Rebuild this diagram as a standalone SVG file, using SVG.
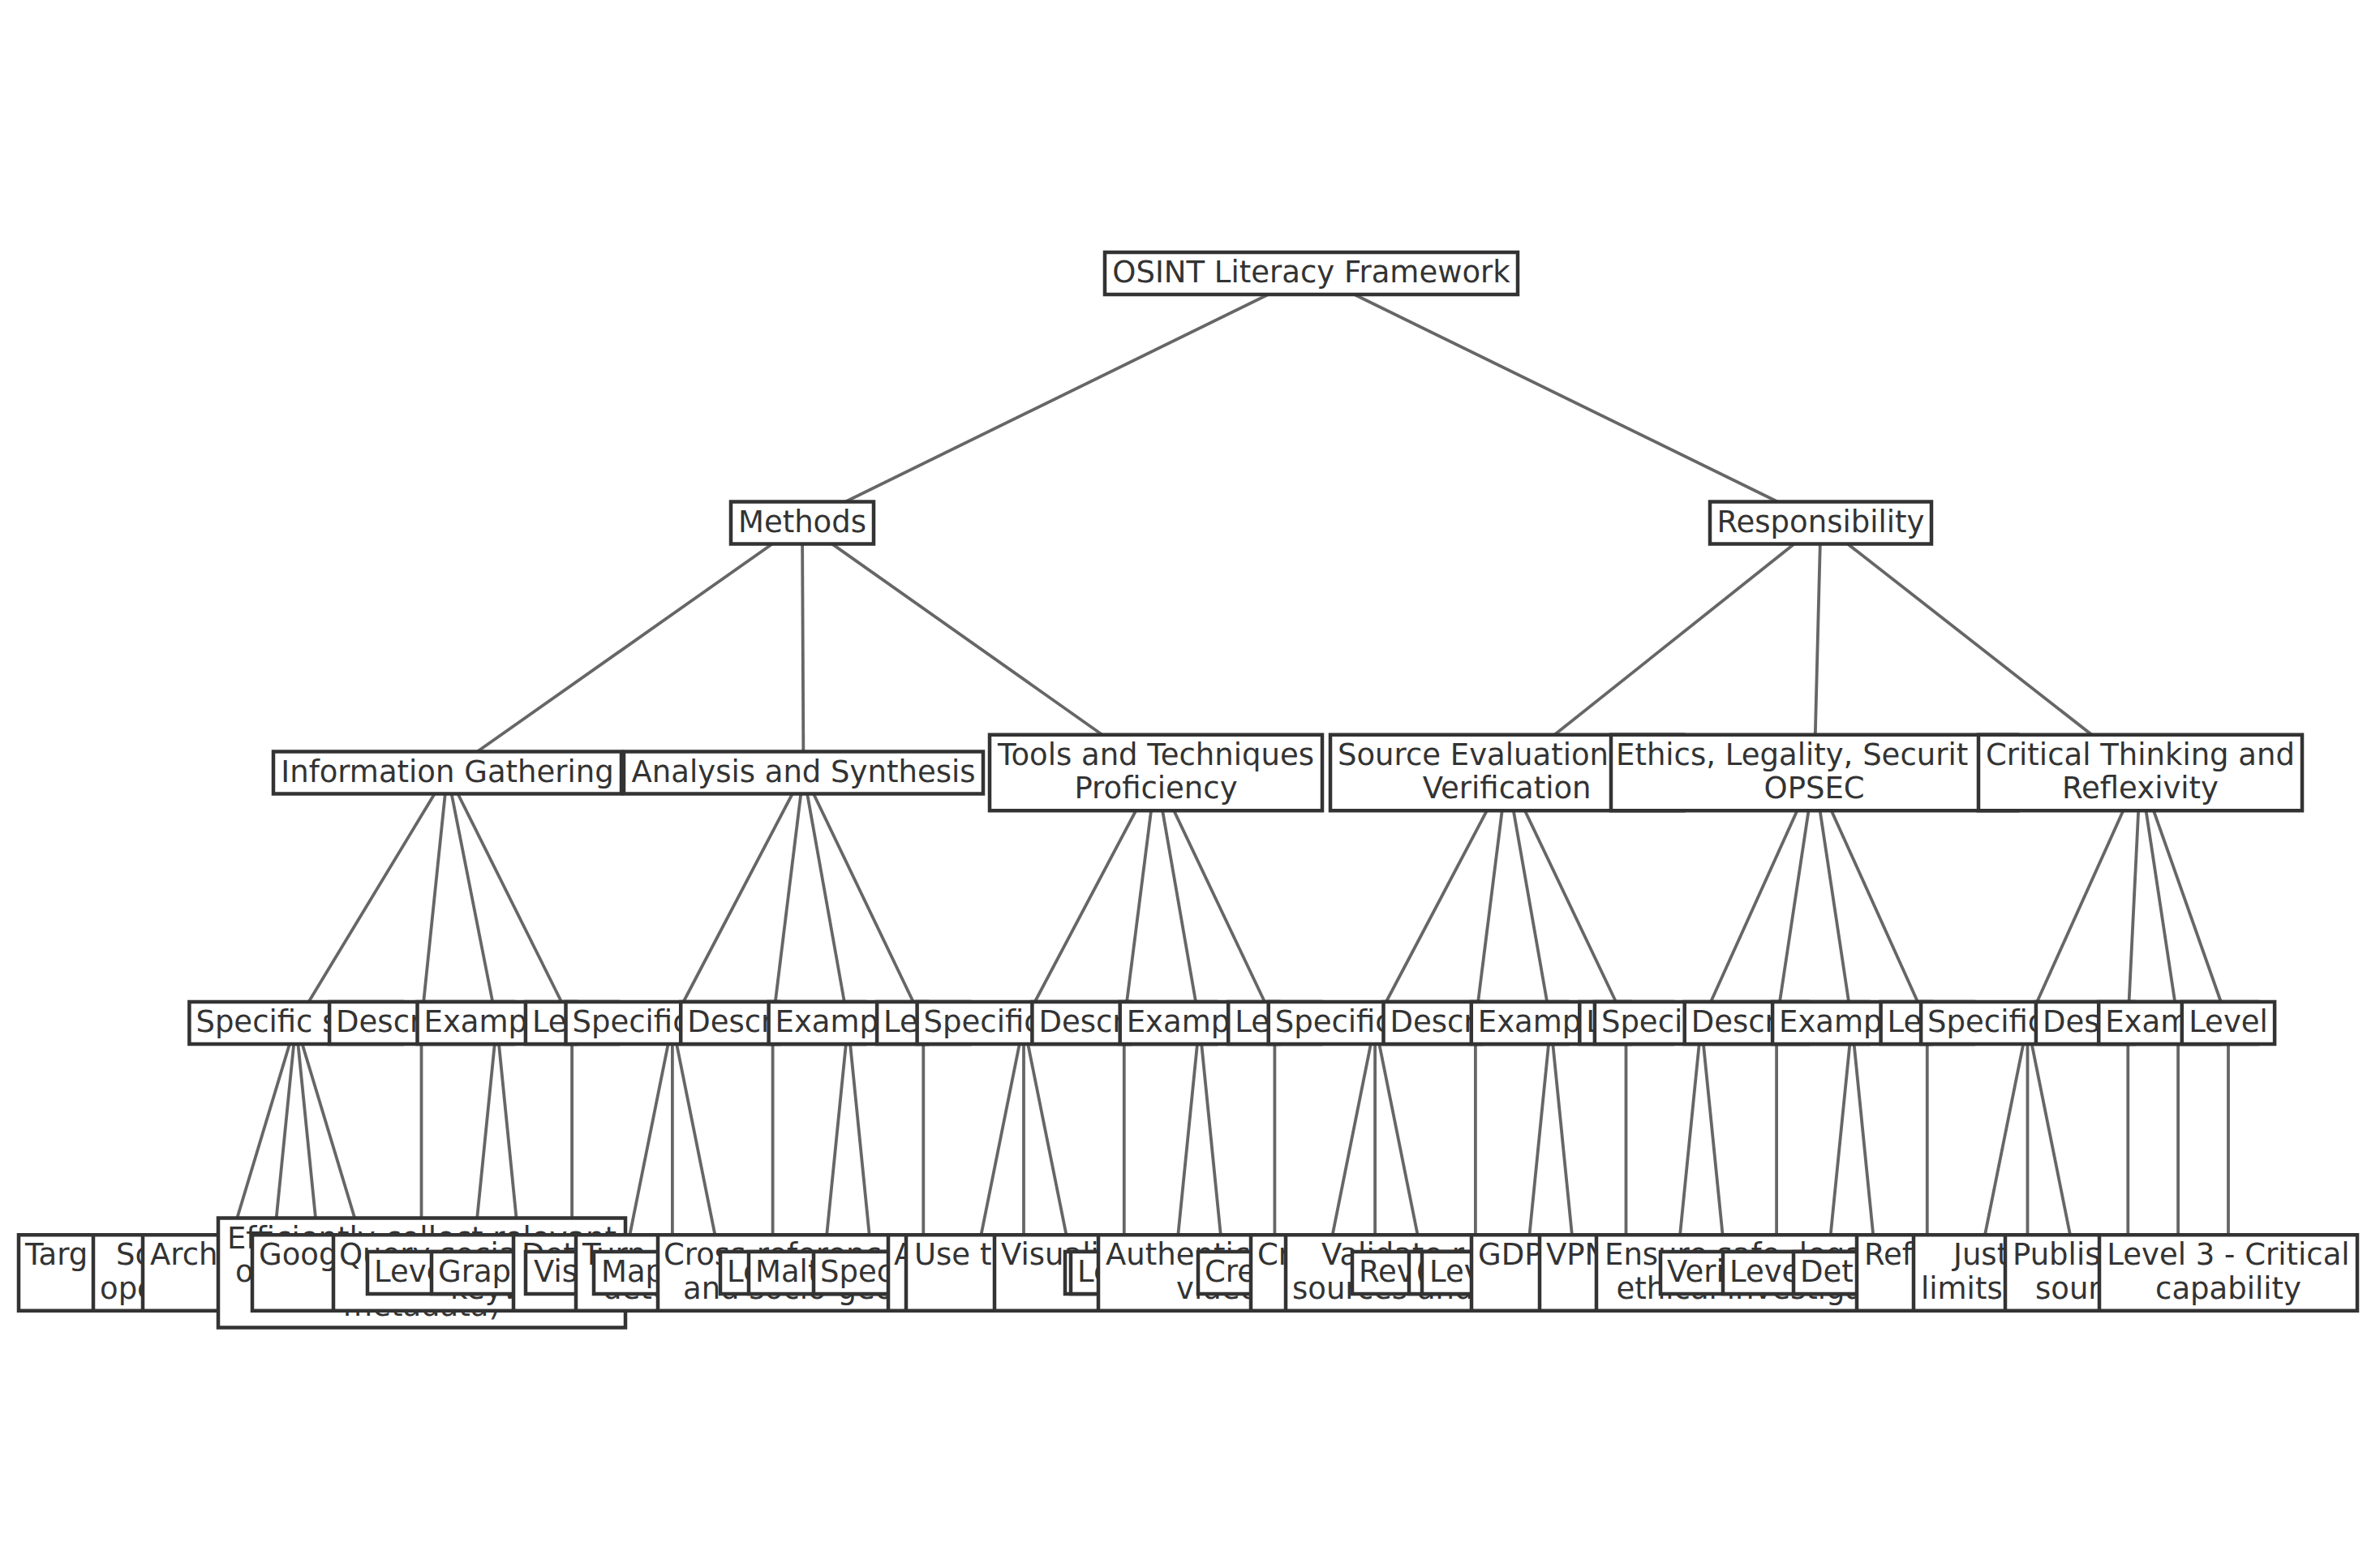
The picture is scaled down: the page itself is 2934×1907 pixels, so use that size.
<svg xmlns="http://www.w3.org/2000/svg" width="2934" height="1907" viewBox="0 0 2934 1907">
<style>
.box{fill:#fff;stroke:#333;stroke-width:4.5}
.edge{stroke:#666;stroke-width:3.8;fill:none}
text{font-family:"DejaVu Sans","Liberation Sans",sans-serif;font-size:37px;fill:#333}
.m{text-anchor:middle}
</style>
<rect x="0" y="0" width="2934" height="1907" fill="#fff"/>
<g id="connectors">
<line class="edge" x1="1616.5" y1="337" x2="989" y2="644.5"/>
<line class="edge" x1="1616.5" y1="337" x2="2244.5" y2="644.5"/>
<line class="edge" x1="989" y1="644.5" x2="551.5" y2="952.5"/>
<line class="edge" x1="989" y1="644.5" x2="990.5" y2="952.5"/>
<line class="edge" x1="989" y1="644.5" x2="1425" y2="952.5"/>
<line class="edge" x1="2244.5" y1="644.5" x2="1857.6" y2="952.5"/>
<line class="edge" x1="2244.5" y1="644.5" x2="2236.6" y2="952.5"/>
<line class="edge" x1="2244.5" y1="644.5" x2="2638.5" y2="952.5"/>
<line class="edge" x1="551.5" y1="952.5" x2="364.8" y2="1261"/>
<line class="edge" x1="551.5" y1="952.5" x2="519.5" y2="1261"/>
<line class="edge" x1="551.5" y1="952.5" x2="612.4" y2="1261"/>
<line class="edge" x1="551.5" y1="952.5" x2="705.1" y2="1261"/>
<line class="edge" x1="990.5" y1="952.5" x2="828.9" y2="1261"/>
<line class="edge" x1="990.5" y1="952.5" x2="952.6" y2="1261"/>
<line class="edge" x1="990.5" y1="952.5" x2="1045.5" y2="1261"/>
<line class="edge" x1="990.5" y1="952.5" x2="1138.3" y2="1261"/>
<line class="edge" x1="1425" y1="952.5" x2="1262" y2="1261"/>
<line class="edge" x1="1425" y1="952.5" x2="1385.8" y2="1261"/>
<line class="edge" x1="1425" y1="952.5" x2="1478.6" y2="1261"/>
<line class="edge" x1="1425" y1="952.5" x2="1571.4" y2="1261"/>
<line class="edge" x1="1857.6" y1="952.5" x2="1695.1" y2="1261"/>
<line class="edge" x1="1857.6" y1="952.5" x2="1818.9" y2="1261"/>
<line class="edge" x1="1857.6" y1="952.5" x2="1911.7" y2="1261"/>
<line class="edge" x1="1857.6" y1="952.5" x2="2004.5" y2="1261"/>
<line class="edge" x1="2236.6" y1="952.5" x2="2097.3" y2="1261"/>
<line class="edge" x1="2236.6" y1="952.5" x2="2190.1" y2="1261"/>
<line class="edge" x1="2236.6" y1="952.5" x2="2283" y2="1261"/>
<line class="edge" x1="2236.6" y1="952.5" x2="2375.8" y2="1261"/>
<line class="edge" x1="2638.5" y1="952.5" x2="2499.5" y2="1261"/>
<line class="edge" x1="2638.5" y1="952.5" x2="2623.3" y2="1261"/>
<line class="edge" x1="2638.5" y1="952.5" x2="2685.1" y2="1261"/>
<line class="edge" x1="2638.5" y1="952.5" x2="2747" y2="1261"/>
<line class="edge" x1="364.8" y1="1261" x2="272" y2="1569"/>
<line class="edge" x1="364.8" y1="1261" x2="333.9" y2="1569"/>
<line class="edge" x1="364.8" y1="1261" x2="395.8" y2="1569"/>
<line class="edge" x1="364.8" y1="1261" x2="457.6" y2="1569"/>
<line class="edge" x1="519.5" y1="1261" x2="519.5" y2="1569"/>
<line class="edge" x1="612.4" y1="1261" x2="581.4" y2="1569"/>
<line class="edge" x1="612.4" y1="1261" x2="643.3" y2="1569"/>
<line class="edge" x1="705.1" y1="1261" x2="705.1" y2="1569"/>
<line class="edge" x1="828.9" y1="1261" x2="767" y2="1569"/>
<line class="edge" x1="828.9" y1="1261" x2="828.9" y2="1569"/>
<line class="edge" x1="828.9" y1="1261" x2="890.8" y2="1569"/>
<line class="edge" x1="952.6" y1="1261" x2="952.6" y2="1569"/>
<line class="edge" x1="1045.5" y1="1261" x2="1014.5" y2="1569"/>
<line class="edge" x1="1045.5" y1="1261" x2="1076.4" y2="1569"/>
<line class="edge" x1="1138.3" y1="1261" x2="1138.3" y2="1569"/>
<line class="edge" x1="1262" y1="1261" x2="1200.1" y2="1569"/>
<line class="edge" x1="1262" y1="1261" x2="1262" y2="1569"/>
<line class="edge" x1="1262" y1="1261" x2="1323.9" y2="1569"/>
<line class="edge" x1="1385.8" y1="1261" x2="1385.8" y2="1569"/>
<line class="edge" x1="1478.6" y1="1261" x2="1447.6" y2="1569"/>
<line class="edge" x1="1478.6" y1="1261" x2="1509.5" y2="1569"/>
<line class="edge" x1="1571.4" y1="1261" x2="1571.4" y2="1569"/>
<line class="edge" x1="1695.1" y1="1261" x2="1633.3" y2="1569"/>
<line class="edge" x1="1695.1" y1="1261" x2="1695.1" y2="1569"/>
<line class="edge" x1="1695.1" y1="1261" x2="1757" y2="1569"/>
<line class="edge" x1="1818.9" y1="1261" x2="1818.9" y2="1569"/>
<line class="edge" x1="1911.7" y1="1261" x2="1880.8" y2="1569"/>
<line class="edge" x1="1911.7" y1="1261" x2="1942.6" y2="1569"/>
<line class="edge" x1="2004.5" y1="1261" x2="2004.5" y2="1569"/>
<line class="edge" x1="2097.3" y1="1261" x2="2066.4" y2="1569"/>
<line class="edge" x1="2097.3" y1="1261" x2="2128.3" y2="1569"/>
<line class="edge" x1="2190.1" y1="1261" x2="2190.1" y2="1569"/>
<line class="edge" x1="2283" y1="1261" x2="2252" y2="1569"/>
<line class="edge" x1="2283" y1="1261" x2="2313.9" y2="1569"/>
<line class="edge" x1="2375.8" y1="1261" x2="2375.8" y2="1569"/>
<line class="edge" x1="2499.5" y1="1261" x2="2437.6" y2="1569"/>
<line class="edge" x1="2499.5" y1="1261" x2="2499.5" y2="1569"/>
<line class="edge" x1="2499.5" y1="1261" x2="2561.4" y2="1569"/>
<line class="edge" x1="2623.3" y1="1261" x2="2623.3" y2="1569"/>
<line class="edge" x1="2685.1" y1="1261" x2="2685.1" y2="1569"/>
<line class="edge" x1="2747" y1="1261" x2="2747" y2="1569"/>
</g>
<g id="n-root"><rect class="box" x="1362" y="311" width="509" height="52"/><text class="m" x="1616.5" y="348">OSINT Literacy Framework</text></g>
<g id="n-methods"><rect class="box" x="901" y="618.5" width="176" height="52"/><text class="m" x="989" y="655.5">Methods</text></g>
<g id="n-ig"><rect class="box" x="337" y="926.5" width="429" height="52"/><text class="m" x="551.5" y="963.5">Information Gathering</text></g>
<g id="n-ig-skills"><rect class="box" x="233.4" y="1235" width="262.8" height="52"/><text x="241.4" y="1272">Specific s</text></g>
<g id="n-leaf-0"><rect class="box" x="23" y="1522.25" width="498" height="93.5"/><text x="31" y="1559.25">Targ</text></g>
<g id="n-leaf-1"><rect class="box" x="115" y="1522.25" width="437.8" height="93.5"/><text x="143" y="1559.25">Sc</text><text x="123" y="1600.75">ope</text></g>
<g id="n-leaf-2"><rect class="box" x="176" y="1522.25" width="439.6" height="93.5"/><text x="185" y="1559.25">Arch</text></g>
<g id="n-ig-desc"><rect class="box" x="406.1" y="1235" width="226.8" height="52"/><text x="414.1" y="1272">Descr</text></g>
<g id="n-leaf-4"><rect class="box" x="269" y="1501.5" width="502" height="135"/><text class="m" x="520" y="1538.5">Efficiently collect relevant</text><text x="290" y="1580">o</text><text class="m" x="520" y="1621.5">metadata)</text></g>
<g id="n-ig-ex"><rect class="box" x="514.5" y="1235" width="195.8" height="52"/><text x="522.5" y="1272">Examp</text></g>
<g id="n-leaf-5"><rect class="box" x="311" y="1522.25" width="540.8" height="93.5"/><text x="319" y="1559.25">Goog</text></g>
<g id="n-leaf-6"><rect class="box" x="411" y="1522.25" width="464.6" height="93.5"/><text x="418" y="1559.25">Query socia</text><text x="555" y="1600.75">keyw</text></g>
<g id="n-ig-level"><rect class="box" x="647.9" y="1235" width="114.3" height="52"/><text x="655.9" y="1272">Le</text></g>
<g id="n-leaf-7"><rect class="box" x="453" y="1543" width="504.2" height="52"/><text x="461" y="1580">Leve</text></g>
<g id="n-as"><rect class="box" x="769" y="926.5" width="443" height="52"/><text class="m" x="990.5" y="963.5">Analysis and Synthesis</text></g>
<g id="n-as-skills"><rect class="box" x="697.5" y="1235" width="262.8" height="52"/><text x="705.5" y="1272">Specific</text></g>
<g id="n-leaf-8"><rect class="box" x="532" y="1543" width="470" height="52"/><text x="540" y="1580">Graph</text></g>
<g id="n-leaf-9"><rect class="box" x="633" y="1522.25" width="391.8" height="93.5"/><text x="643" y="1559.25">Det</text></g>
<g id="n-leaf-10"><rect class="box" x="648" y="1543" width="485.6" height="52"/><text x="658" y="1580">Vis</text></g>
<g id="n-as-desc"><rect class="box" x="839.2" y="1235" width="226.8" height="52"/><text x="847.2" y="1272">Descr</text></g>
<g id="n-leaf-11"><rect class="box" x="710" y="1522.25" width="485.2" height="93.5"/><text x="718" y="1559.25">Turn</text><text x="743" y="1600.75">dete</text></g>
<g id="n-as-ex"><rect class="box" x="947.6" y="1235" width="195.8" height="52"/><text x="955.6" y="1272">Examp</text></g>
<g id="n-leaf-12"><rect class="box" x="732" y="1543" width="565" height="52"/><text x="741" y="1580">Map</text></g>
<g id="n-leaf-13"><rect class="box" x="811" y="1522.25" width="530.8" height="93.5"/><text x="818" y="1559.25">Cross-referenc</text><text x="842" y="1600.75">and socio-geo</text></g>
<g id="n-as-level"><rect class="box" x="1081.1" y="1235" width="114.3" height="52"/><text x="1089.1" y="1272">Le</text></g>
<g id="n-leaf-14"><rect class="box" x="888" y="1543" width="500.6" height="52"/><text x="896" y="1580">Le</text></g>
<g id="n-tt"><rect class="box" x="1220" y="905.75" width="410" height="93.5"/><text class="m" x="1425" y="942.75">Tools and Techniques</text><text class="m" x="1425" y="984.25">Proficiency</text></g>
<g id="n-tt-skills"><rect class="box" x="1130.6" y="1235" width="262.8" height="52"/><text x="1138.6" y="1272">Specific</text></g>
<g id="n-leaf-15"><rect class="box" x="923" y="1543" width="554.2" height="52"/><text x="931" y="1580">Malt</text></g>
<g id="n-leaf-16"><rect class="box" x="1003" y="1543" width="518" height="52"/><text x="1011" y="1580">Spec</text></g>
<g id="n-leaf-17"><rect class="box" x="1095" y="1522.25" width="457.8" height="93.5"/><text x="1102" y="1559.25">A</text></g>
<g id="n-tt-desc"><rect class="box" x="1272.4" y="1235" width="226.8" height="52"/><text x="1280.4" y="1272">Descr</text></g>
<g id="n-leaf-18"><rect class="box" x="1117" y="1522.25" width="537.6" height="93.5"/><text x="1127" y="1559.25">Use t</text></g>
<g id="n-tt-ex"><rect class="box" x="1380.7" y="1235" width="195.8" height="52"/><text x="1388.7" y="1272">Examp</text></g>
<g id="n-leaf-19"><rect class="box" x="1226" y="1522.25" width="443.2" height="93.5"/><text x="1234" y="1559.25">Visuali</text></g>
<g id="n-leaf-20"><rect class="box" x="1313" y="1543" width="393" height="52"/></g>
<g id="n-tt-level"><rect class="box" x="1514.2" y="1235" width="114.3" height="52"/><text x="1522.2" y="1272">Le</text></g>
<g id="n-leaf-21"><rect class="box" x="1320" y="1543" width="502.8" height="52"/><text x="1328" y="1580">Le</text></g>
<g id="n-responsibility"><rect class="box" x="2108" y="618.5" width="273" height="52"/><text class="m" x="2244.5" y="655.5">Responsibility</text></g>
<g id="n-se"><rect class="box" x="1640" y="905.75" width="435.2" height="93.5"/><text x="1649" y="942.75">Source Evaluation</text><text class="m" x="1857.6" y="984.25">Verification</text></g>
<g id="n-se-skills"><rect class="box" x="1563.7" y="1235" width="262.8" height="52"/><text x="1571.7" y="1272">Specific</text></g>
<g id="n-leaf-22"><rect class="box" x="1354" y="1522.25" width="558.6" height="93.5"/><text x="1363" y="1559.25">Authentic</text><text x="1450" y="1600.75">video</text></g>
<g id="n-leaf-23"><rect class="box" x="1477" y="1543" width="436.2" height="52"/><text x="1485" y="1580">Cre</text></g>
<g id="n-leaf-24"><rect class="box" x="1542" y="1522.25" width="430" height="93.5"/><text x="1550" y="1559.25">Cr</text></g>
<g id="n-se-desc"><rect class="box" x="1705.5" y="1235" width="226.8" height="52"/><text x="1713.5" y="1272">Descr</text></g>
<g id="n-leaf-25"><rect class="box" x="1585" y="1522.25" width="467.8" height="93.5"/><text x="1629" y="1559.25">Validate r</text><text x="1593" y="1600.75">sources and</text></g>
<g id="n-se-ex"><rect class="box" x="1813.8" y="1235" width="195.8" height="52"/><text x="1821.8" y="1272">Examp</text></g>
<g id="n-leaf-26"><rect class="box" x="1667" y="1543" width="427.6" height="52"/><text x="1675" y="1580">Rev</text></g>
<g id="n-leaf-27"><rect class="box" x="1737" y="1543" width="411.2" height="52"/><text x="1745" y="1580">(</text></g>
<g id="n-se-level"><rect class="box" x="1947.3" y="1235" width="114.3" height="52"/><text x="1955.3" y="1272">L</text></g>
<g id="n-leaf-28"><rect class="box" x="1753" y="1543" width="503" height="52"/><text x="1762" y="1580">Lev</text></g>
<g id="n-el"><rect class="box" x="1986" y="905.75" width="501.2" height="93.5"/><text x="1992" y="942.75">Ethics, Legality, Securit</text><text class="m" x="2236.6" y="984.25">OPSEC</text></g>
<g id="n-el-skills"><rect class="box" x="1965.9" y="1235" width="262.8" height="52"/><text x="1973.9" y="1272">Specif</text></g>
<g id="n-leaf-29"><rect class="box" x="1814" y="1522.25" width="504.8" height="93.5"/><text x="1822" y="1559.25">GDP</text></g>
<g id="n-leaf-30"><rect class="box" x="1898" y="1522.25" width="460.6" height="93.5"/><text x="1906" y="1559.25">VPN</text></g>
<g id="n-el-desc"><rect class="box" x="2076.7" y="1235" width="226.8" height="52"/><text x="2084.7" y="1272">Descr</text></g>
<g id="n-leaf-31"><rect class="box" x="1968" y="1522.25" width="444.2" height="93.5"/><text x="1978" y="1559.25">Ensure safe, lega</text><text x="1992.6" y="1600.75">ethical investiga</text></g>
<g id="n-el-ex"><rect class="box" x="2185.1" y="1235" width="195.8" height="52"/><text x="2193.1" y="1272">Examp</text></g>
<g id="n-leaf-32"><rect class="box" x="2047" y="1543" width="410" height="52"/><text x="2055" y="1580">Veri</text></g>
<g id="n-el-level"><rect class="box" x="2318.6" y="1235" width="114.3" height="52"/><text x="2326.6" y="1272">Le</text></g>
<g id="n-leaf-34"><rect class="box" x="2124" y="1543" width="503.6" height="52"/><text x="2132" y="1580">Leve</text></g>
<g id="n-leaf-33"><rect class="box" x="2211" y="1543" width="205.8" height="52"/><text x="2219" y="1580">Det</text></g>
<g id="n-ct"><rect class="box" x="2439" y="905.75" width="399" height="93.5"/><text class="m" x="2638.5" y="942.75">Critical Thinking and</text><text class="m" x="2638.5" y="984.25">Reflexivity</text></g>
<g id="n-ct-skills"><rect class="box" x="2368.1" y="1235" width="262.8" height="52"/><text x="2376.1" y="1272">Specific</text></g>
<g id="n-leaf-37"><rect class="box" x="2289" y="1522.25" width="544.8" height="93.5"/><text x="2298" y="1559.25">Ref</text></g>
<g id="n-ct-desc"><rect class="box" x="2509.9" y="1235" width="226.8" height="52"/><text x="2517.9" y="1272">Des</text></g>
<g id="n-leaf-38"><rect class="box" x="2359" y="1522.25" width="528.6" height="93.5"/><text x="2408" y="1559.25">Just</text><text x="2368" y="1600.75">limits</text></g>
<g id="n-ct-ex"><rect class="box" x="2587.2" y="1235" width="195.8" height="52"/><text x="2595.2" y="1272">Exam</text></g>
<g id="n-leaf-39"><rect class="box" x="2472" y="1522.25" width="426.2" height="93.5"/><text x="2481" y="1559.25">Publis</text><text x="2509" y="1600.75">sour</text></g>
<g id="n-ct-level"><rect class="box" x="2689.8" y="1235" width="114.3" height="52"/><text class="m" x="2747" y="1272">Level</text></g>
<g id="n-leaf-40"><rect class="box" x="2588" y="1522.25" width="318" height="93.5"/><text class="m" x="2747" y="1559.25">Level 3 - Critical</text><text class="m" x="2747" y="1600.75">capability</text></g>
</svg>
